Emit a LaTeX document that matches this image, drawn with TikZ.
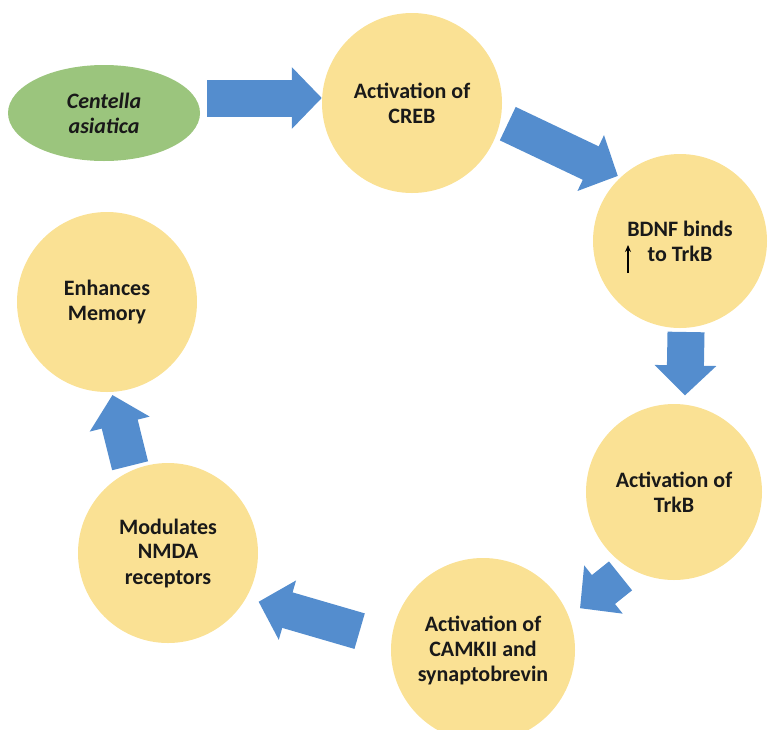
\documentclass[tikz,border=0pt]{standalone}
\usepackage{fontspec}
\setmainfont{Carlito}
\usetikzlibrary{shapes.geometric}
\usetikzlibrary{arrows.meta}
\definecolor{stepyellow}{RGB}{250,225,148}
\definecolor{plantgreen}{RGB}{155,197,125}
\definecolor{flowblue}{RGB}{84,141,206}

\begin{document}
\begin{tikzpicture}[x=1pt,y=-1pt,
    stage/.style={circle,fill=stepyellow,minimum size=180pt,inner sep=0pt,align=center,
        font=\bfseries\fontsize{22}{25}\selectfont,text=black!90},
    flow/.style={draw=flowblue,line width=37pt,-{Triangle[width=60pt,length=30pt]}}]
    \useasboundingbox (0,0) rectangle (768,729);

    \node (plant) at (104,113) [ellipse,fill=plantgreen,minimum width=192pt,minimum height=96pt,
        align=center,text=black!90,font=\bfseries\itshape\fontsize{22}{25}\selectfont] {Centella\\asiatica};
    \node (creb) at (412,103) [stage] {Activation of\\CREB};
    \node (bdnf) at (680,241) [stage,minimum size=174pt] {BDNF binds\\to TrkB};
    \node (trkb) at (674,492) [stage,minimum size=176pt] {Activation of\\TrkB};
    \node (camk) at (483,650) [stage,minimum size=184pt] {Activation of\\CAMKII and\\synaptobrevin};
    \node (nmda) at (168,553) [stage] {Modulates\\NMDA\\receptors};
    \node (memory) at (107,302) [stage] {Enhances\\Memory};

    \draw[-{Stealth[length=7pt,width=6pt]},line width=1.3pt] ([shift={(-52,32)}]bdnf.center) -- ++(0,-28);

    \draw[flow,shorten <=7pt] ([yshift=15pt]plant.east) -- ([yshift=5pt]creb.west);
    \draw[flow,shorten <=8pt,shorten >=3pt] (creb.349) -- (bdnf.133);
    \draw[flow,shorten <=4pt,shorten >=9pt] (bdnf.274) -- (trkb.83);
    \draw[flow,shorten <=12pt,shorten >=14pt] (trkb.240) -- (camk.21);
    \draw[flow,shorten <=33pt,shorten >=13pt] (camk.174) -- (nmda.330);
    \draw[flow,shorten <=5pt,shorten >=3pt] (nmda.114) -- (memory.273);
\end{tikzpicture}
\end{document}
